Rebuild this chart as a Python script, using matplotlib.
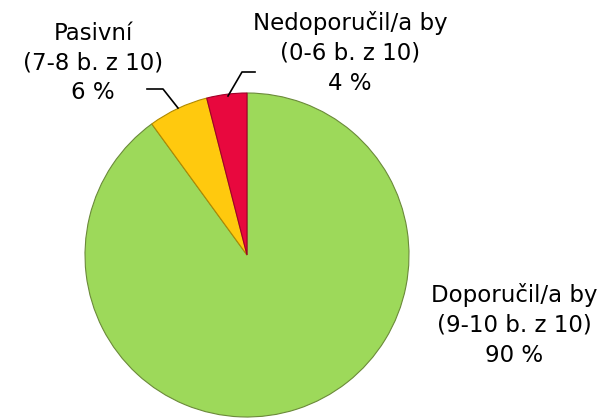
import matplotlib
matplotlib.use("Agg")
import matplotlib.pyplot as plt

categories = ["Doporučil/a by\n(9-10 b. z 10)", "Pasivní\n(7-8 b. z 10)", "Nedoporučil/a by\n(0-6 b. z 10)"]
values = [90, 6, 4]
colors = ["#9DD95A", "#FFC90E", "#E8083E"]

W, H = 603, 420
fig = plt.figure(figsize=(W / 100, H / 100), dpi=100)
ax = fig.add_axes([0, 0, 1, 1])

cx, cy, r = 247, H - 255, 162
wedges, _ = ax.pie(values, colors=colors, startangle=90, counterclock=False,
                   center=(cx, cy), radius=r,
                   wedgeprops=dict(edgecolor="#6b8a3a", linewidth=0.8),
                   frame=True)
wedges[1].set_edgecolor("#b08a00")
wedges[2].set_edgecolor("#a00028")
ax.set_xlim(0, W)
ax.set_ylim(0, H)
ax.set_aspect("equal")
ax.axis("off")

fs = 16.5
ls = 1.38
labels = [f"{c}\n{v} %" for c, v in zip(categories, values)]
ax.text(514, H - 325, labels[0], ha="center", va="center", fontsize=fs,
        family="DejaVu Sans", linespacing=ls)
ax.text(93, H - 63, labels[1], ha="center", va="center", fontsize=fs,
        family="DejaVu Sans", linespacing=ls)
ax.text(350, H - 53, labels[2], ha="center", va="center", fontsize=fs,
        family="DejaVu Sans", linespacing=ls)

# leader lines
ax.plot([147, 163, 178], [H - 89, H - 89, H - 108], color="black", lw=1.2)
ax.plot([255, 242, 228], [H - 72, H - 72, H - 96], color="black", lw=1.2)

fig.savefig("out.png", dpi=100)
